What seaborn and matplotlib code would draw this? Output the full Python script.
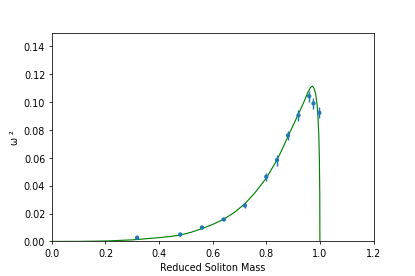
import numpy as np
import pandas as pd
import seaborn as sns
import matplotlib
matplotlib.use("Agg")
import matplotlib.pyplot as plt

# measured points
mass = [0.318, 0.479, 0.560, 0.641, 0.720, 0.800, 0.840, 0.881, 0.920, 0.960, 0.976, 0.998]
omega2 = [0.0027, 0.0050, 0.0100, 0.0158, 0.0258, 0.0464, 0.0584, 0.0761, 0.0905, 0.1043, 0.0991, 0.0924]
omega2_err = [0.0008, 0.0008, 0.0010, 0.0012, 0.0015, 0.0030, 0.0040, 0.0035, 0.0040, 0.0040, 0.0040, 0.0040]

# fitted curve
fit_mass = [0.0, 0.1, 0.2, 0.3, 0.4, 0.44, 0.48, 0.52, 0.56, 0.60, 0.64, 0.68, 0.72, 0.76,
            0.80, 0.84, 0.86, 0.88, 0.90, 0.92, 0.94, 0.955, 0.965, 0.972, 0.978, 0.984,
            0.989, 0.993, 0.996, 0.998, 0.9995, 1.0]
fit_omega2 = [0.0, 0.00003, 0.0003, 0.0011, 0.0027, 0.0035, 0.0046, 0.0066, 0.0092, 0.0122,
              0.0158, 0.0207, 0.0270, 0.0355, 0.0455, 0.0585, 0.0665, 0.0750, 0.0833, 0.0915,
              0.1000, 0.1070, 0.1105, 0.1115, 0.1100, 0.1060, 0.0990, 0.0890, 0.0760, 0.0600,
              0.0350, 0.0]

fit_df = pd.DataFrame({"mass": fit_mass, "omega2": fit_omega2})
data_df = pd.DataFrame({"mass": mass, "omega2": omega2, "err": omega2_err})

fig, ax = plt.subplots(figsize=(6, 4), dpi=415 / 6)
fig.subplots_adjust(left=0.125, right=0.9, top=0.88, bottom=0.125)

sns.lineplot(data=fit_df, x="mass", y="omega2", ax=ax, color="green",
             linewidth=1.2, sort=False, zorder=2)
ax.errorbar(data_df["mass"], data_df["omega2"], yerr=data_df["err"], xerr=0.003,
            fmt="none", ecolor="tab:blue", elinewidth=1.5, zorder=3)
sns.scatterplot(data=data_df, x="mass", y="omega2", ax=ax, color="tab:blue",
                s=20, edgecolor="none", zorder=4)

ax.set_xlim(0, 1.2)
ax.set_ylim(0, 0.15)
ax.set_yticks(np.arange(0, 0.141, 0.02))
ax.set_xlabel("Reduced Soliton Mass")
ax.set_ylabel("ω ²")

plt.savefig("out.png")
